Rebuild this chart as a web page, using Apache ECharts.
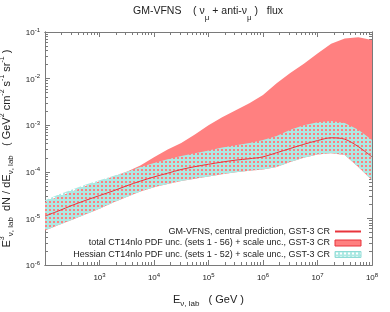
<!DOCTYPE html>
<html><head><meta charset="utf-8">
<script src="https://cdn.jsdelivr.net/npm/echarts@6/dist/echarts.min.js"></script>
<style>html,body{margin:0;padding:0;background:#fff}#c{width:390px;height:312px}</style>
</head><body><div id="c"></div>
<script>
// Neutrino energy (GeV)
var energy = [1e2,1.78e2,3.16e2,5.62e2,1e3,1.78e3,3.16e3,5.62e3,1e4,1.78e4,3.16e4,5.62e4,1e5,1.78e5,3.16e5,5.62e5,1e6,1.78e6,3.16e6,5.62e6,1e7,1.78e7,3.16e7,5.62e7,1e8];
// central prediction
var central = [1.12e-5,1.45e-5,1.91e-5,2.45e-5,3.09e-5,3.89e-5,5.01e-5,6.31e-5,7.76e-5,9.33e-5,1.12e-4,1.29e-4,1.45e-4,1.62e-4,1.78e-4,1.91e-4,2.09e-4,2.57e-4,3.16e-4,3.89e-4,4.68e-4,5.37e-4,5.01e-4,3.47e-4,2.09e-4];
// total PDF + scale uncertainty band
var totalUpper = [2.24e-5,2.95e-5,3.80e-5,5.01e-5,6.30e-5,7.90e-5,1.00e-4,1.36e-4,2.05e-4,3.02e-4,4.17e-4,6.31e-4,1.00e-3,1.48e-3,2.09e-3,2.95e-3,4.47e-3,7.94e-3,1.32e-2,2.09e-2,3.47e-2,5.62e-2,7.24e-2,7.76e-2,6.76e-2];
var totalLower = [5.50e-6,7.24e-6,9.33e-6,1.23e-5,1.62e-5,2.19e-5,2.88e-5,3.80e-5,4.68e-5,5.50e-5,6.31e-5,7.08e-5,7.94e-5,8.91e-5,9.77e-5,1.05e-4,1.12e-4,1.26e-4,1.62e-4,2.00e-4,2.34e-4,2.51e-4,2.29e-4,1.26e-4,6.61e-5];
// Hessian PDF + scale uncertainty band
var hessUpper = [2.45e-5,3.24e-5,4.17e-5,5.37e-5,6.61e-5,8.13e-5,1.00e-4,1.26e-4,1.55e-4,1.86e-4,2.19e-4,2.51e-4,2.88e-4,3.31e-4,3.72e-4,4.17e-4,4.79e-4,5.89e-4,7.94e-4,1.00e-3,1.15e-3,1.23e-3,1.12e-3,7.94e-4,4.79e-4];
var hessLower = [5.50e-6,7.24e-6,9.33e-6,1.23e-5,1.62e-5,2.19e-5,2.88e-5,3.80e-5,4.68e-5,5.50e-5,6.31e-5,7.08e-5,7.94e-5,8.91e-5,9.77e-5,1.05e-4,1.12e-4,1.26e-4,1.62e-4,2.00e-4,2.34e-4,2.51e-4,2.29e-4,1.26e-4,6.61e-5];
// tick labels
var xTickValues = [1e3,1e4,1e5,1e6,1e7,1e8];
var xTickExp = ['3','4','5','6','7','8'];
var yTickValues = [1e-6,1e-5,1e-4,1e-3,1e-2,1e-1];
var yTickExp = ['-6','-5','-4','-3','-2','-1'];
var seriesNames = [
  'GM-VFNS, central prediction, GST-3 CR',
  'total CT14nlo PDF unc. (sets 1 - 56) + scale unc., GST-3 CR',
  'Hessian CT14nlo PDF unc. (sets 1 - 52) + scale unc., GST-3 CR'
];

var FONT = '"Liberation Sans", Arial, Helvetica, sans-serif';
var AX = '#7a7a7a';
var TXT = '#222';

// pattern for the Hessian band
var pc = document.createElement('canvas');
pc.width = 4; pc.height = 4;
var pctx = pc.getContext('2d');
pctx.fillStyle = '#ade9e3';
pctx.fillRect(0,0,4,4);
pctx.clearRect(1,1,2,2);
var hessPattern = {image: pc, repeat: 'repeat'};

function minorValues(lo, hi){
  var out=[];
  for (var d=lo; d<hi; d++){ for (var k=2;k<=9;k++){ out.push(k*Math.pow(10,d)); } }
  return out;
}
var xMinor = minorValues(2,8);
var yMinor = minorValues(-6,-1);
var xMajor = [1e2,1e3,1e4,1e5,1e6,1e7,1e8];

function bandItem(lo, hi, style){
  return function(params, api){
    if (params.dataIndex !== 0) return;
    var pts = [];
    for (var i=0;i<energy.length;i++) pts.push(api.coord([energy[i], hi[i]]));
    for (var j=energy.length-1;j>=0;j--) pts.push(api.coord([energy[j], lo[j]]));
    return {type:'polygon', shape:{points:pts}, style: style};
  };
}

var expRich = {
  b: {fontSize: 8, fontFamily: FONT, color: TXT, verticalAlign:'bottom', lineHeight: 10},
  s: {fontSize: 6, fontFamily: FONT, color: TXT, verticalAlign:'top', lineHeight: 10, padding:[0,0,6,0]}
};

function xAx(pos, ticks, len, labels){
  return {
    type:'log', logBase:10, min:1e2, max:1e8, position: pos, gridIndex:0, offset:0,
    axisLine:{show:true, lineStyle:{color:AX, width:1}},
    axisTick:{show:true, inside:true, length:len, customValues:ticks, lineStyle:{color:AX, width:1}},
    axisLabel:{show: !!labels, customValues: xTickValues, margin: 7, formatter: function(v){
      var i = xTickValues.indexOf(v); return i<0 ? '' : '{b|10}{s|'+xTickExp[i]+'}'; }, rich: expRich},
    splitLine:{show:false}, minorTick:{show:false}
  };
}
function yAx(pos, ticks, len, labels){
  return {
    type:'log', logBase:10, min:1e-6, max:1e-1, position: pos, gridIndex:0, offset:0,
    axisLine:{show:true, lineStyle:{color:AX, width:1}},
    axisTick:{show:true, inside:true, length:len, customValues:ticks, lineStyle:{color:AX, width:1}},
    axisLabel:{show: !!labels, customValues: yTickValues, margin: 5, formatter: function(v){
      var i = -1; for (var k=0;k<yTickValues.length;k++){ if (Math.abs(Math.log10(v)-Math.log10(yTickValues[k]))<1e-6) i=k; }
      return i<0 ? '' : '{b|10}{s|'+yTickExp[i]+'}'; }, rich: expRich},
    splitLine:{show:false}, minorTick:{show:false}
  };
}

var xAxes = [xAx('bottom', xMajor, 5, true), xAx('bottom', xMinor, 3, false), xAx('top', xMajor, 5, false), xAx('top', xMinor, 3, false)];
var yAxes = [yAx('left', yTickValues, 5, true), yAx('left', yMinor, 3, false), yAx('right', yTickValues, 5, false), yAx('right', yMinor, 3, false)];

xAxes[0].name = '{t|E}{sb|ν, lab}{t|   ( GeV )}';
xAxes[0].nameLocation = 'middle';
xAxes[0].nameGap = 29;
xAxes[0].nameTextStyle = {rich:{
  t:{fontSize:11, fontFamily:FONT, color:TXT, lineHeight:14, verticalAlign:'top'},
  sb:{fontSize:8, fontFamily:FONT, color:TXT, lineHeight:14, verticalAlign:'bottom', padding:[6,0,0,0]}
}};
yAxes[0].name = '{t|E}{sp|3}{sb|ν, lab}{t|  dN / dE}{sb|ν, lab}{t|   ( GeV}{sp|2}{t| cm}{sp|-2}{t| s}{sp|-1}{t| sr}{sp|-1}{t| )}';
yAxes[0].nameLocation = 'middle';
yAxes[0].nameGap = 26;
yAxes[0].nameRotate = 90;
yAxes[0].nameTextStyle = {rich:{
  t:{fontSize:11, fontFamily:FONT, color:TXT, lineHeight:16},
  sp:{fontSize:7, fontFamily:FONT, color:TXT, lineHeight:16, verticalAlign:'top'},
  sb:{fontSize:8, fontFamily:FONT, color:TXT, lineHeight:16, verticalAlign:'bottom'}
}};

var chart = echarts.init(document.getElementById('c'), null, {renderer:'canvas'});
chart.setOption({
  animation:false,
  backgroundColor:'#fff',
  title:{
    text:'{t|GM-VFNS    ( ν}{sb|μ}{t| + anti-ν}{sb|μ}{t| )   flux}',
    left:133, top:6, padding:0,
    textStyle:{fontWeight:'normal', rich:{
      t:{fontSize:10.5, fontWeight:'normal', fontFamily:FONT, color:TXT, lineHeight:16, verticalAlign:'top'},
      sb:{fontSize:8, fontWeight:'normal', fontFamily:FONT, color:TXT, lineHeight:16, verticalAlign:'bottom'}
    }}
  },
  grid:{left:45, right:18, top:32, bottom:47, containLabel:false, outerBoundsMode:'none'},
  xAxis: xAxes,
  yAxis: yAxes,
  legend:{
    orient:'vertical', align:'right', right:28, top:226, padding:0,
    itemWidth:26, itemHeight:6, itemGap:0.5,
    textStyle:{fontSize:9, fontFamily:FONT, color:TXT, lineHeight:11},
    data:[
      {name:seriesNames[0], itemStyle:{opacity:0}},
      {name:seriesNames[1], icon:'rect', itemStyle:{color:'#ff8080', borderColor:'#e8343c', borderWidth:1}},
      {name:seriesNames[2], icon:'rect', itemStyle:{color:hessPattern, borderColor:'#8fdcd6', borderWidth:1}}
    ]
  },
  series:[
    {name:seriesNames[1], type:'custom', xAxisIndex:0, yAxisIndex:0, coordinateSystem:'cartesian2d',
     data: energy.map(function(e,i){return [e, totalUpper[i]];}),
     itemStyle:{color:'#ff8080'},
     renderItem: bandItem(totalLower, totalUpper, {fill:'#ff8080'}), z:1},
    {name:seriesNames[2], type:'custom', xAxisIndex:0, yAxisIndex:0, coordinateSystem:'cartesian2d',
     data: energy.map(function(e,i){return [e, hessUpper[i]];}),
     itemStyle:{color:'#ade9e3'},
     renderItem: bandItem(hessLower, hessUpper, {fill:hessPattern}), z:2},
    {name:seriesNames[0], type:'line', xAxisIndex:0, yAxisIndex:0, symbol:'none', smooth:0.3,
     data: energy.map(function(e,i){return [e, central[i]];}),
     lineStyle:{color:'#e8343c', width:1}, itemStyle:{color:'#e8343c'}, z:3}
  ]
});
</script></body></html>
